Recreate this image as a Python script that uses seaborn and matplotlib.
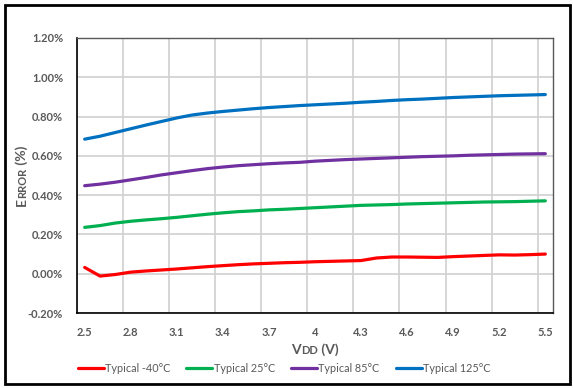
import numpy as np
import pandas as pd
import matplotlib
matplotlib.use("Agg")
import matplotlib.pyplot as plt
import seaborn as sns
from matplotlib.patches import Rectangle

vdd = ["2.5", "2.6", "2.7", "2.8", "2.9", "3.0", "3.1", "3.2", "3.3", "3.4", "3.5",
       "3.6", "3.7", "3.8", "3.9", "4", "4.1", "4.2", "4.3", "4.4", "4.5",
       "4.6", "4.7", "4.8", "4.9", "5.0", "5.1", "5.2", "5.3", "5.4", "5.5"]
tick_every = 3

typ_m40 = [0.032, -0.012, -0.004, 0.008, 0.014, 0.019, 0.024, 0.030, 0.036, 0.041, 0.046,
           0.050, 0.053, 0.056, 0.058, 0.061, 0.063, 0.065, 0.067, 0.080, 0.085,
           0.085, 0.084, 0.083, 0.087, 0.090, 0.093, 0.096, 0.095, 0.097, 0.100]
typ_25 = [0.236, 0.245, 0.258, 0.267, 0.274, 0.280, 0.287, 0.295, 0.303, 0.310, 0.316,
          0.320, 0.325, 0.328, 0.332, 0.336, 0.340, 0.344, 0.348, 0.350, 0.352,
          0.355, 0.357, 0.359, 0.361, 0.363, 0.365, 0.366, 0.367, 0.369, 0.371]
typ_85 = [0.448, 0.456, 0.466, 0.478, 0.490, 0.503, 0.514, 0.525, 0.535, 0.543, 0.550,
          0.555, 0.560, 0.564, 0.567, 0.573, 0.577, 0.581, 0.584, 0.587, 0.590,
          0.593, 0.596, 0.598, 0.600, 0.603, 0.605, 0.607, 0.609, 0.610, 0.611]
typ_125 = [0.685, 0.700, 0.719, 0.738, 0.757, 0.775, 0.793, 0.808, 0.818, 0.826, 0.833,
           0.840, 0.846, 0.851, 0.856, 0.860, 0.864, 0.868, 0.873, 0.877, 0.882,
           0.886, 0.889, 0.893, 0.897, 0.900, 0.903, 0.906, 0.908, 0.910, 0.912]

series_names = ["Typical -40°C", "Typical 25°C", "Typical 85°C", "Typical 125°C"]
series_vals = [typ_m40, typ_25, typ_85, typ_125]
colors = ["#FF0000", "#00B050", "#7030A0", "#0070C0"]
y_ticks = [-0.2, 0.0, 0.2, 0.4, 0.6, 0.8, 1.0, 1.2]

rows = []
for name, vals in zip(series_names, series_vals):
    for i, v in enumerate(vals):
        rows.append({"idx": i, "vdd": vdd[i], "err": v, "series": name})
df = pd.DataFrame(rows)

sns.set_theme(style="white")
plt.rcParams["font.family"] = ["Lato", "DejaVu Sans"]

fig = plt.figure(figsize=(5.73, 3.88), dpi=100)
ax = fig.add_axes([77/573, 1-313/388, (553-77)/573, (313-38)/388])

n = len(vdd)
for k in range(0, n, tick_every):
    ax.axvline(k - 0.5, color="#D0D0D0", lw=1.2, zorder=0)
for yt in y_ticks:
    ax.axhline(yt, color="#D0D0D0", lw=1.2, zorder=0)

sns.lineplot(data=df, x="idx", y="err", hue="series", hue_order=series_names,
             palette=colors, linewidth=2.3, ax=ax, legend=True, zorder=3)

ax.set_xlim(-0.5, n - 0.5)
ax.set_ylim(-0.2, 1.2)
ax.set_xticks(list(range(0, n, tick_every)))
ax.set_xticklabels([vdd[i] for i in range(0, n, tick_every)])
ax.set_yticks(y_ticks)
ax.set_yticklabels([f"{t:.2f}%" for t in y_ticks])
ax.tick_params(axis="both", length=0, labelsize=8, labelcolor="#595959")
ax.tick_params(axis="x", pad=10)
ax.tick_params(axis="y", pad=10)
for lab in ax.get_xticklabels() + ax.get_yticklabels():
    lab.set_fontweight("bold")
ax.set_xlabel("")
ax.set_ylabel("")

for s in ["left", "bottom"]:
    ax.spines[s].set_color("black")
    ax.spines[s].set_linewidth(1.2)
for s in ["top", "right"]:
    ax.spines[s].set_color("#595959")
    ax.spines[s].set_linewidth(1.0)

leg = ax.legend(loc="center", bbox_to_anchor=(284/573, 1-368/388),
                bbox_transform=fig.transFigure, ncol=4, frameon=False,
                fontsize=7.8, handlelength=2.4, handletextpad=0.1, columnspacing=1.5)
for t in leg.get_texts():
    t.set_color("#595959")
for h in leg.get_lines():
    h.set_linewidth(2.3)

fig.canvas.draw()
r = fig.canvas.get_renderer()
big, small = 10, 8
parts = [("V", big), ("DD", small), (" (V)", big)]
texts = []
for s, sz in parts:
    texts.append(fig.text(0, 0, s, fontsize=sz, fontweight="bold", color="#595959",
                          ha="left", va="baseline"))
widths = [t.get_window_extent(r).width for t in texts]
total = sum(widths)
x0 = 315 - total/2
ybase = 388 - 354
for t, w in zip(texts, widths):
    t.set_position((x0/573, ybase/388))
    x0 += w

parts = [("E", big), ("RROR", small), (" (%)", big)]
texts = []
for s, sz in parts:
    texts.append(fig.text(0, 0, s, fontsize=sz, fontweight="bold", color="#595959",
                          ha="left", va="baseline", rotation=90, rotation_mode="anchor"))
heights = [t.get_window_extent(r).height for t in texts]
total = sum(heights)
y0 = (388 - 176) - total/2
xbase = 26
for t, h in zip(texts, heights):
    t.set_position((xbase/573, y0/388))
    y0 += h

fig.patches.append(Rectangle((5/573, 4/388), 565/573, 379/388, transform=fig.transFigure,
                             fill=False, edgecolor="black", linewidth=2))

fig.savefig("out.png", dpi=100)
